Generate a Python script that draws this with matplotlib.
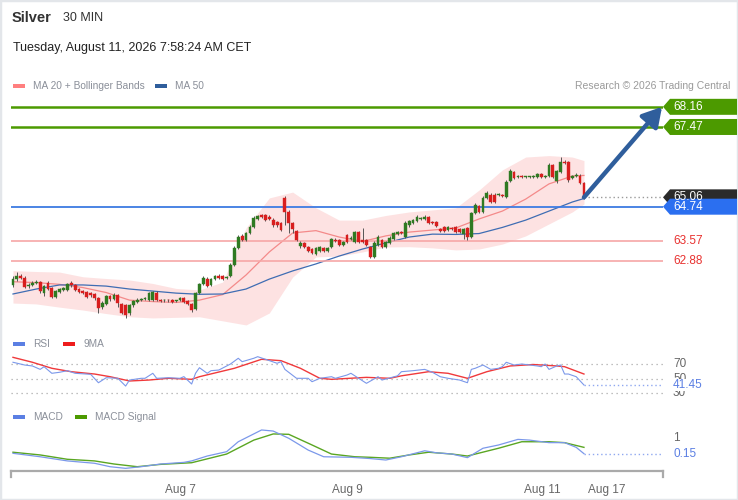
import matplotlib
matplotlib.use('Agg')
import matplotlib.pyplot as plt
from matplotlib.patches import Polygon, Rectangle
import numpy as np

plt.rcParams['font.family'] = ['Liberation Sans', 'DejaVu Sans']

# ---------------- data ----------------
opens = [62.06, 62.26, 62.37, 62.30, 62.02, 62.06, 62.13, 62.16, 61.78, 62.13,
         61.96, 61.65, 61.82, 61.90, 61.90, 62.13, 62.06, 61.92, 61.85, 61.82,
         61.78, 61.75, 61.61, 61.30, 61.41, 61.68, 61.58, 61.72, 61.41, 61.37,
         61.10, 61.37, 61.48, 61.54, 61.58, 61.54, 61.54, 61.80, 61.55, 61.53,
         61.54, 61.54, 61.51, 61.54, 61.60, 61.51, 61.41, 61.24, 61.78, 62.09,
         62.28, 62.06, 62.26, 62.37, 62.35, 62.30, 62.37, 62.74, 63.33, 63.74,
         63.60, 63.84, 64.04, 64.32, 64.46, 64.44, 64.40, 64.30, 64.20, 64.18,
         65.04, 64.56, 64.18, 63.91, 63.38, 63.50, 63.36, 63.30, 63.12, 63.22,
         63.33, 63.22, 63.36, 63.60, 63.60, 63.43, 63.77, 63.63, 63.53, 63.87,
         63.60, 63.60, 63.36, 63.02, 63.43, 63.60, 63.36, 63.50, 63.63, 63.80,
         63.86, 63.70, 64.11, 64.18, 64.25, 64.33, 64.32, 64.39, 64.22, 64.22,
         63.98, 64.04, 63.94, 64.01, 64.04, 63.98, 63.80, 64.01, 63.70, 64.52,
         64.76, 64.56, 65.04, 65.14, 65.14, 65.14, 65.14, 65.07, 65.62, 65.93,
         65.76, 65.79, 65.76, 65.76, 65.76, 65.76, 65.86, 65.76, 65.79, 66.17,
         65.62, 65.93, 66.27, 66.27, 65.72, 65.79, 65.79, 65.55]
closes = [62.26, 62.37, 62.30, 61.99, 62.06, 62.13, 62.16, 61.85, 62.02, 61.92,
          61.65, 61.85, 61.92, 61.96, 62.09, 62.06, 61.89, 61.82, 61.78, 61.65,
          61.72, 61.61, 61.27, 61.44, 61.68, 61.58, 61.72, 61.44, 61.10, 61.03,
          61.37, 61.51, 61.55, 61.58, 61.60, 61.78, 61.82, 61.56, 61.52, 61.54,
          61.53, 61.48, 61.53, 61.61, 61.47, 61.41, 61.20, 61.78, 62.09, 62.30,
          62.02, 62.26, 62.37, 62.30, 62.27, 62.33, 62.74, 63.33, 63.70, 63.60,
          63.84, 64.04, 64.35, 64.42, 64.39, 64.30, 64.33, 64.11, 64.11, 63.94,
          64.56, 64.18, 63.98, 63.60, 63.50, 63.36, 63.22, 63.15, 63.33, 63.36,
          63.22, 63.33, 63.63, 63.56, 63.43, 63.53, 63.53, 63.67, 63.87, 63.53,
          63.53, 63.43, 63.02, 63.50, 63.70, 63.36, 63.53, 63.67, 63.84, 63.87,
          63.85, 64.18, 64.25, 64.28, 64.39, 64.35, 64.39, 64.18, 64.18, 64.08,
          63.91, 63.91, 64.04, 63.98, 63.87, 63.87, 63.98, 63.70, 64.52, 64.80,
          64.56, 65.04, 65.21, 64.90, 64.90, 65.17, 65.11, 65.59, 65.96, 65.72,
          65.79, 65.76, 65.76, 65.77, 65.79, 65.86, 65.76, 65.79, 66.17, 65.76,
          65.96, 66.27, 66.24, 65.65, 65.79, 65.83, 65.55, 65.06]
highs = [62.36, 62.50, 62.42, 62.35, 62.12, 62.18, 62.22, 62.20, 62.05, 62.18,
         62.00, 61.90, 61.96, 62.00, 62.13, 62.20, 62.10, 61.96, 61.90, 61.86,
         61.82, 61.80, 61.65, 61.50, 61.72, 61.72, 61.80, 61.76, 61.45, 61.42,
         61.42, 61.56, 61.60, 61.62, 61.64, 61.82, 61.86, 61.84, 61.58, 61.58,
         61.58, 61.58, 61.56, 61.64, 61.66, 61.54, 61.44, 61.82, 62.14, 62.35,
         62.32, 62.30, 62.41, 62.42, 62.39, 62.37, 62.80, 63.38, 63.76, 63.80,
         63.88, 64.10, 64.42, 64.47, 64.50, 64.48, 64.45, 64.34, 64.24, 64.22,
         65.10, 64.62, 64.22, 63.94, 63.56, 63.54, 63.40, 63.34, 63.37, 63.40,
         63.36, 63.37, 63.68, 63.66, 63.64, 63.58, 63.82, 63.72, 63.92, 63.92,
         64.01, 63.64, 63.40, 63.55, 63.76, 63.64, 63.58, 63.72, 63.88, 63.92,
         63.92, 64.25, 64.30, 64.33, 64.44, 64.40, 64.44, 64.43, 64.26, 64.26,
         64.02, 64.08, 64.08, 64.05, 64.08, 64.02, 64.02, 64.05, 64.57, 64.85,
         64.80, 65.10, 65.27, 65.20, 65.20, 65.22, 65.18, 65.64, 66.02, 65.97,
         65.84, 65.83, 65.79, 65.79, 65.83, 65.90, 65.90, 65.83, 66.22, 66.20,
         66.00, 66.44, 66.34, 66.30, 65.84, 65.88, 65.85, 65.60]
lows = [61.98, 62.20, 62.25, 61.95, 61.97, 62.02, 62.08, 61.80, 61.68, 61.88,
        61.60, 61.60, 61.78, 61.85, 61.86, 62.00, 61.85, 61.78, 61.74, 61.60,
        61.66, 61.56, 61.10, 61.22, 61.38, 61.52, 61.54, 61.30, 61.05, 60.93,
        61.03, 61.32, 61.44, 61.50, 61.54, 61.50, 61.50, 61.52, 61.48, 61.49,
        61.49, 61.45, 61.48, 61.50, 61.44, 61.38, 61.14, 61.20, 61.74, 62.05,
        61.98, 62.02, 62.22, 62.26, 62.23, 62.26, 62.33, 62.70, 63.28, 63.55,
        63.56, 63.80, 64.00, 64.28, 64.35, 64.25, 64.28, 64.06, 64.04, 63.90,
        64.11, 63.84, 63.84, 63.55, 63.33, 63.32, 63.18, 63.12, 63.08, 63.18,
        63.18, 63.18, 63.32, 63.52, 63.40, 63.40, 63.50, 63.60, 63.50, 63.48,
        63.48, 63.38, 62.98, 62.98, 63.40, 63.32, 63.32, 63.46, 63.60, 63.76,
        63.80, 63.66, 64.06, 64.14, 64.22, 64.30, 64.28, 64.14, 64.14, 64.04,
        63.87, 63.87, 63.90, 63.94, 63.84, 63.83, 63.63, 63.60, 63.66, 64.48,
        64.52, 64.52, 65.00, 64.85, 64.85, 65.10, 65.06, 65.03, 65.58, 65.68,
        65.72, 65.72, 65.73, 65.73, 65.72, 65.72, 65.72, 65.72, 65.75, 65.72,
        65.55, 65.90, 66.20, 65.60, 65.68, 65.76, 65.50, 65.02]

band_idx = [0, 6, 12, 18, 24, 30, 36, 42, 48, 54, 60, 66, 72, 78, 84, 90, 96,
            102, 108, 114, 120, 126, 132, 138, 144, 147]
ma20 = [62.17, 62.14, 62.08, 61.97, 61.80, 61.54, 61.49, 61.46, 61.54, 61.73,
        62.40, 63.19, 63.84, 63.92, 63.70, 63.55, 63.74, 63.87, 63.94, 64.01,
        64.32, 64.59, 65.00, 65.52, 65.79, 65.81]
bb_upper = [62.55, 62.52, 62.50, 62.34, 62.28, 62.23, 62.11, 61.94, 61.89, 62.16,
            64.01, 65.04, 65.24, 64.70, 64.28, 64.28, 64.44, 64.56, 64.63, 64.70,
            65.31, 66.00, 66.44, 66.49, 66.44, 66.32]
bb_lower = [61.44, 61.41, 61.30, 61.20, 61.08, 60.97, 60.93, 60.95, 60.97, 60.83,
            60.69, 61.10, 62.33, 63.02, 63.05, 63.19, 63.36, 63.37, 63.33, 63.26,
            63.29, 63.46, 63.74, 64.15, 64.56, 64.83]
ma50 = [61.75, 61.92, 62.06, 62.06, 62.02, 61.92, 61.85, 61.78, 61.74, 61.75,
        61.92, 62.26, 62.54, 62.78, 63.05, 63.29, 63.50, 63.70, 63.80, 63.79,
        63.82, 64.03, 64.28, 64.59, 64.90, 65.02]

target_levels = [68.16, 67.47]
last_price = 65.06
support_blue = 64.74
support_red = [63.57, 62.88]

rsi_idx = [0, 3, 5, 7, 8, 10, 12, 14, 16, 20, 22, 24, 27, 29, 30, 33, 34, 36, 37, 40,
           43, 44, 46, 47, 48, 50, 51, 53, 56, 58, 59, 62, 63, 65, 68, 69, 70, 73, 76, 77,
           79, 82, 83, 86, 87, 89, 91, 94, 95, 99, 100, 103, 106, 108, 110, 112, 115, 117,
           118, 119, 121, 123, 125, 126, 127, 129, 131, 135, 136, 137, 138, 140, 141, 142,
           143, 145, 147]
rsi_vals = [72.8, 69.0, 67.7, 63.0, 66.7, 57.6, 59.0, 61.2, 57.6, 56.2, 44.6, 51.5, 50.7,
            40.0, 48.3, 50.7, 50.7, 57.6, 50.7, 51.5, 50.7, 53.0, 42.8, 57.6, 65.3, 57.6,
            61.2, 62.1, 70.4, 78.3, 73.6, 78.3, 80.5, 76.9, 71.4, 73.6, 63.0, 50.7, 50.7,
            46.0, 50.7, 52.9, 50.7, 55.2, 57.6, 50.7, 43.8, 52.9, 48.3, 54.1, 59.8, 61.2,
            63.0, 59.0, 52.9, 50.7, 48.3, 44.6, 63.0, 64.5, 69.0, 63.0, 64.5, 66.7, 72.8,
            69.0, 70.4, 67.7, 66.7, 70.4, 63.0, 67.7, 69.0, 56.6, 56.6, 52.9, 41.45]
rsi_ma_idx = [0, 5, 10, 15, 21, 25, 30, 35, 40, 46, 48, 57, 64, 69, 74, 79, 82, 91, 97,
              100, 107, 112, 117, 122, 128, 134, 140, 142, 147]
rsi_ma_vals = [79.6, 72.8, 64.5, 59.8, 56.6, 52.9, 47.0, 48.3, 50.7, 49.3, 52.9, 64.5,
               76.9, 75.0, 64.5, 50.7, 49.3, 52.0, 50.7, 54.1, 59.8, 57.6, 50.7, 59.8,
               67.7, 69.7, 67.7, 66.7, 56.6]
rsi_levels = [70, 50, 30]
rsi_last = 41.45

macd_idx = [0, 7, 14, 21, 25, 29, 33, 38, 44, 46, 50, 55, 58, 64, 67, 71, 76, 80, 87,
            92, 96, 100, 106, 109, 113, 117, 121, 125, 130, 133, 138, 142, 145, 147]
macd_vals = [0.17, -0.02, -0.25, -0.38, -0.57, -0.66, -0.57, -0.42, -0.33, -0.25, 0.02,
             0.26, 0.81, 1.46, 1.40, 1.00, 0.35, -0.02, -0.05, -0.12, -0.20, -0.02, 0.31,
             0.20, 0.13, -0.07, 0.45, 0.63, 0.94, 0.90, 0.76, 0.76, 0.50, 0.15]
signal_idx = [0, 7, 14, 21, 26, 32, 38, 46, 55, 62, 67, 71, 77, 82, 88, 92, 97, 102,
              107, 113, 117, 125, 131, 138, 142, 147]
signal_vals = [0.23, 0.08, -0.16, -0.25, -0.42, -0.57, -0.44, -0.35, 0.13, 0.90, 1.24,
               1.22, 0.63, 0.13, -0.02, -0.05, -0.10, 0.08, 0.23, 0.13, 0.02, 0.45, 0.81,
               0.81, 0.76, 0.50]
macd_ticks = [1, 0]
macd_last = 0.15

tick_pos = [43.0, 86.0, 136.2, 152.9]
tick_labels = ['Aug 7', 'Aug 9', 'Aug 11', 'Aug 17']

# ---------------- layout ----------------
W, H = 738, 500
fig = plt.figure(figsize=(W / 100, H / 100), dpi=100)
fig.patch.set_facecolor('white')


def rect(l, t, r, b):
    return [l / W, 1 - b / H, (r - l) / W, (b - t) / H]


def fx(x):
    return x / W


def fy(y):
    return 1 - y / H


XLIM = (-0.51, 167.35)
ax = fig.add_axes(rect(11, 95, 663, 330))
ax.set_xlim(*XLIM)
ax.set_ylim(60.517, 68.565)
rax = fig.add_axes(rect(11, 350, 663, 400))
rax.set_xlim(*XLIM)
rax.set_ylim(20.8, 89.7)
max_ = fig.add_axes(rect(11, 420, 663, 471))
max_.set_xlim(*XLIM)
max_.set_ylim(-0.807, 2.011)

for a in (ax, rax, max_):
    a.set_facecolor('none')
    for s in a.spines.values():
        s.set_visible(False)
    a.set_yticks([])
    a.set_xticks([])

# ---------------- main price panel ----------------
ax.fill_between(band_idx, bb_lower, bb_upper, color='#fde2e2', lw=0, zorder=1)
ax.plot(band_idx, ma20, color='#f48a8a', lw=0.9, zorder=2)
ax.plot(band_idx, ma50, color='#3f6db3', lw=0.9, zorder=2)

for lv in target_levels:
    ax.axhline(lv, color='#4c9a00', lw=1.8, zorder=2)
ax.axhline(support_blue, color='#3d7be2', lw=1.3, zorder=2)
for lv in support_red:
    ax.axhline(lv, color='#f6a7a7', lw=1.2, zorder=2)

o = np.array(opens)
c = np.array(closes)
x = np.arange(len(c))
cols = np.where(c >= o, '#2f7a22', '#d81e1e')
ax.vlines(x, lows, highs, color='#555555', lw=0.7, zorder=3)
ax.bar(x, np.maximum(np.abs(c - o), 0.015), bottom=np.minimum(o, c), width=0.72,
       color=cols, edgecolor=cols, lw=0.3, zorder=4)

ax.plot([x[-1] + 1, XLIM[1]], [last_price, last_price], color='#9a9a9a', lw=1,
        ls=(0, (1, 2)), zorder=2)

ax.annotate('', xy=(167.1, target_levels[0]), xytext=(x[-1], last_price),
            arrowprops=dict(arrowstyle='-|>,head_length=0.95,head_width=0.55',
                            color='#2f5e9c', lw=3.2, shrinkA=0, shrinkB=0,
                            mutation_scale=12),
            annotation_clip=False, zorder=6)

fig.canvas.draw()


def ypix(a, val):
    return H - a.transData.transform((0, val))[1]


def tag(yp, color, label):
    pts = [(fx(663), fy(yp)), (fx(670), fy(yp - 8)), (fx(737), fy(yp - 8)),
           (fx(737), fy(yp + 8)), (fx(670), fy(yp + 8))]
    fig.add_artist(Polygon(pts, closed=True, facecolor=color, edgecolor='none',
                           transform=fig.transFigure, zorder=10))
    fig.text(fx(673), fy(yp), label, color='white', fontsize=8.5, va='center',
             ha='left', zorder=11)


for lv in target_levels:
    tag(ypix(ax, lv), '#4c9a00', f'{lv:.2f}')
tag(ypix(ax, last_price), '#2b2b2b', f'{last_price:.2f}')
tag(ypix(ax, support_blue), '#2b6ff0', f'{support_blue:.2f}')
for lv in support_red:
    fig.text(fx(673), fy(ypix(ax, lv)), f'{lv:.2f}', color='#e8312f', fontsize=8.5,
             va='center', ha='left')

# ---------------- RSI panel ----------------
for lv in rsi_levels:
    rax.axhline(lv, color='#aaaaaa', lw=0.9, ls=(0, (1, 3)))
    fig.text(fx(673), fy(ypix(rax, lv)), str(lv), color='#666666', fontsize=8.5,
             va='center', ha='left')
rax.plot([rsi_idx[-1], XLIM[1]], [rsi_last, rsi_last], color='#8fa8f0', lw=1,
         ls=(0, (1, 2)))
rax.plot(rsi_ma_idx, rsi_ma_vals, color='#f0393b', lw=1.0, zorder=3)
rax.plot(rsi_idx, rsi_vals, color='#7b98ea', lw=0.8, zorder=4)
fig.text(fx(673), fy(ypix(rax, rsi_last)), f'{rsi_last:.2f}', color='#5b7fe3',
         fontsize=8.5, va='center', ha='left',
         bbox=dict(facecolor='white', edgecolor='none', pad=0.3))

# ---------------- MACD panel ----------------
max_.plot([macd_idx[-1], XLIM[1]], [macd_last, macd_last], color='#8fa8f0', lw=1,
          ls=(0, (1, 2)))
max_.plot(signal_idx, signal_vals, color='#5aa622', lw=1.0, zorder=3)
max_.plot(macd_idx, macd_vals, color='#7b98ea', lw=0.9, zorder=4)
for tv in macd_ticks:
    fig.text(fx(673), fy(ypix(max_, tv)), str(tv), color='#666666', fontsize=8.5,
             va='center', ha='left')
fig.text(fx(673), fy(ypix(max_, macd_last)), f'{macd_last:.2f}', color='#5b7fe3',
         fontsize=8.5, va='center', ha='left',
         bbox=dict(facecolor='white', edgecolor='none', pad=0.3))

max_.spines['bottom'].set_visible(True)
max_.spines['bottom'].set_color('#aaaaaa')
max_.spines['bottom'].set_linewidth(1.6)
for xa in (0, 1):
    max_.plot([xa, xa], [0, -0.12], color='#aaaaaa', lw=1.6, transform=max_.transAxes,
              clip_on=False)
max_.set_xticks(tick_pos)
max_.set_xticklabels(tick_labels)
max_.tick_params(axis='x', length=0, pad=9, labelsize=8.5, colors='#666666')

# ---------------- texts / legends ----------------
fig.text(fx(12), fy(18), 'Silver', fontsize=10.5, fontweight='bold', color='#333333',
         va='center', ha='left')
fig.text(fx(63), fy(18), '30 MIN', fontsize=9, color='#333333', va='center', ha='left')
fig.text(fx(13), fy(48), 'Tuesday, August 11, 2026 7:58:24 AM CET', fontsize=9,
         color='#222222', va='center', ha='left')


def legend_item(xp, yp, color, label):
    fig.add_artist(Rectangle((fx(xp), fy(yp + 2)), 12 / W, 4 / H, facecolor=color,
                             edgecolor='none', transform=fig.transFigure))
    fig.text(fx(xp + 20), fy(yp), label, fontsize=7.3, color='#8a8f99', va='center',
             ha='left')


legend_item(13, 86, '#ff7f7f', 'MA 20 + Bollinger Bands')
legend_item(155, 86, '#2f5e9c', 'MA 50')
fig.text(fx(730), fy(86), 'Research \u00a9 2026 Trading Central', fontsize=7.5,
         color='#9a9a9a', va='center', ha='right')
legend_item(13, 344, '#5b7fe3', 'RSI')
legend_item(63, 344, '#ee1c1c', '9MA')
legend_item(13, 417, '#5b7fe3', 'MACD')
legend_item(75, 417, '#4c9a00', 'MACD Signal')

fig.add_artist(Rectangle((0, 0), 1, 1, fill=False, edgecolor='#e3e6ea', lw=2.5,
                         transform=fig.transFigure))

fig.savefig('out.png', dpi=100)
